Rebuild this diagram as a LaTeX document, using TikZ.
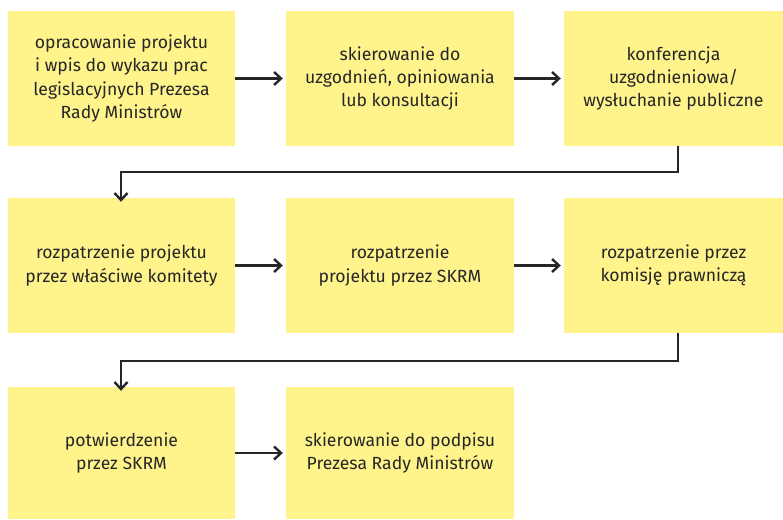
\documentclass[tikz,border=0pt]{standalone}
\usepackage{fontspec}
\setmainfont{Fira Sans}
\usetikzlibrary{arrows.meta}
\definecolor{boxyellow}{RGB}{255,243,140}
\definecolor{ink}{RGB}{38,38,38}
\begin{document}
\begin{tikzpicture}[x=1pt,y=-1pt,
  box/.style={fill=boxyellow,draw=none,inner sep=0pt,align=center,text=ink,
    font=\fontsize{17.6}{23.2}\selectfont},
  conn/.style={draw=ink,line width=2.6pt,-{Straight Barb[length=7pt,width=13pt,line width=2.4pt]}}]
\useasboundingbox (0,0) rectangle (783,519);
% row 1
\node[box,minimum width=227pt,minimum height=135pt] (b1) at (121.5,78.5) {opracowanie projektu\\i wpis do wykazu prac\\legislacyjnych Prezesa\\Rady Ministrów};
\node[box,minimum width=228pt,minimum height=135pt] (b2) at (400,78.5) {skierowanie do\\uzgodnień, opiniowania\\lub konsultacji};
\node[box,minimum width=219pt,minimum height=135pt] (b3) at (673.5,78.5) {konferencja\\uzgodnieniowa/\\wysłuchanie publiczne};
% row 2
\node[box,minimum width=227pt,minimum height=135pt] (b4) at (121.5,265.5) {rozpatrzenie projektu\\przez właściwe komitety};
\node[box,minimum width=228pt,minimum height=135pt] (b5) at (400,265.5) {rozpatrzenie\\projektu przez SKRM};
\node[box,minimum width=219pt,minimum height=135pt] (b6) at (673.5,265.5) {rozpatrzenie przez\\komisję prawniczą};
% row 3
\node[box,minimum width=227pt,minimum height=132pt] (b7) at (121.5,453) {potwierdzenie\\przez SKRM};
\node[box,minimum width=228pt,minimum height=132pt] (b8) at (400,453) {skierowanie do podpisu\\Prezesa Rady Ministrów};
% connectors
\draw[conn] (b1.east) -- ([xshift=-3pt]b2.west);
\draw[conn] (b2.east) -- ([xshift=-3pt]b3.west);
\draw[conn] (b4.east) -- ([xshift=-3pt]b5.west);
\draw[conn] (b5.east) -- ([xshift=-3pt]b6.west);
\draw[conn] (b7.east) -- ([xshift=-3pt]b8.west);
\coordinate (t1) at (678,146);
\coordinate (t2) at (678,333);
\draw[conn] (t1) -- (678,172) -- (121,172) -- ([yshift=-4pt]b4.north -| 121,0);
\draw[conn] (t2) -- (678,361) -- (121,361) -- ([yshift=-4pt]b7.north -| 121,0);
\end{tikzpicture}
\end{document}
